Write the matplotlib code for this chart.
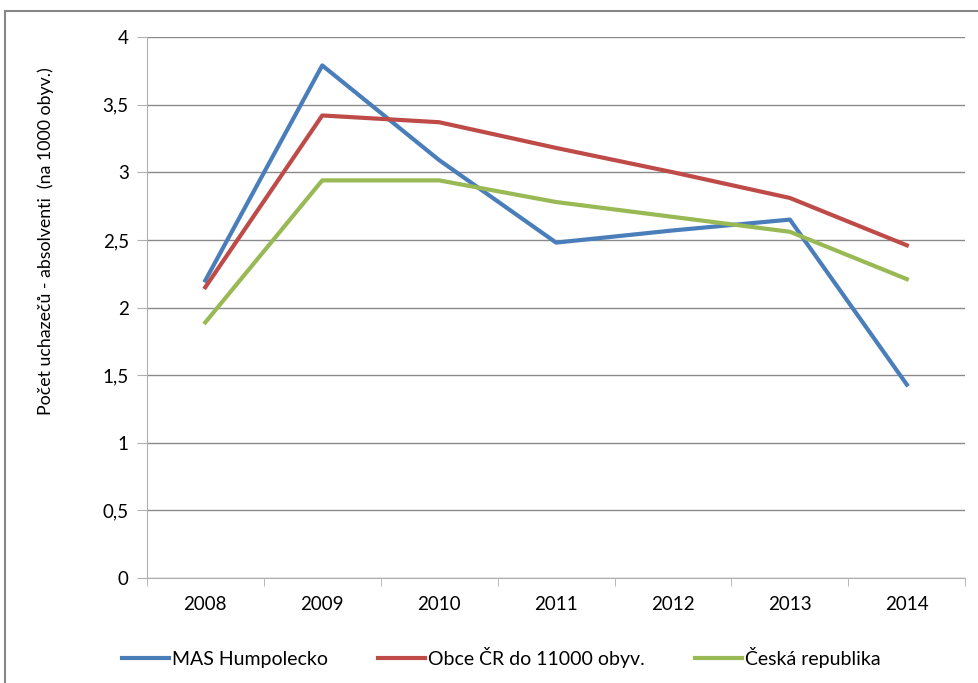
import matplotlib
matplotlib.use('Agg')
import matplotlib.pyplot as plt
from matplotlib.patches import Rectangle

years = ['2008', '2009', '2010', '2011', '2012', '2013', '2014']
mas_humpolecko = [2.20, 3.79, 3.09, 2.48, 2.57, 2.65, 1.43]
obce_cr = [2.15, 3.42, 3.37, 3.18, 3.00, 2.81, 2.46]
ceska_republika = [1.89, 2.94, 2.94, 2.78, 2.67, 2.56, 2.21]

plt.rcParams['font.family'] = ['Lato', 'DejaVu Sans']

fig = plt.figure(figsize=(9.79, 6.83), dpi=100)
ax = fig.add_axes([0.150, 0.1537, 0.836, 0.7921])

# outer chart frame
fig.patches.append(Rectangle((5/979, -0.1), 1.2, 1 - 11/683 + 0.1,
                             transform=fig.transFigure, fill=False,
                             edgecolor='#868686', linewidth=1.5))

x = range(len(years))
ax.plot(x, mas_humpolecko, color='#4a7ebb', lw=3, label='MAS Humpolecko')
ax.plot(x, obce_cr, color='#be4b48', lw=3, label='Obce ČR do 11000 obyv.')
ax.plot(x, ceska_republika, color='#98b954', lw=3, label='Česká republika')

ax.set_xlim(-0.5, len(years) - 0.5)
ax.set_ylim(0, 4)
ax.set_yticks([0, 0.5, 1, 1.5, 2, 2.5, 3, 3.5, 4])
ax.set_yticklabels(['0', '0,5', '1', '1,5', '2', '2,5', '3', '3,5', '4'], fontsize=13.5)
ax.set_xticks(list(x))
ax.set_xticklabels(years, fontsize=13.5)
ax.set_xticks([i - 0.5 for i in range(len(years) + 1)], minor=True)
ax.tick_params(axis='x', which='major', length=0, pad=13)
ax.tick_params(axis='x', which='minor', length=6, color='#b0b0b0', direction='out')
ax.tick_params(axis='y', length=7, color='#b0b0b0', direction='out', pad=6)

ax.grid(True, axis='y', color='#8a8a8a', lw=1)
ax.set_axisbelow(True)
for s in ['top', 'right']:
    ax.spines[s].set_visible(False)
ax.spines['left'].set_color('#b0b0b0')
ax.spines['bottom'].set_color('#b0b0b0')

ax.set_ylabel('Počet uchazečů - absolventi  (na 1000 obyv.)', fontsize=12.8)
ax.yaxis.set_label_coords(-0.113, 0.622)

fig.legend(loc='center', bbox_to_anchor=(0.512, 0.038), ncol=3, frameon=False,
           fontsize=14, handlelength=2.4, handletextpad=0.15, columnspacing=2.6)

fig.savefig('out.png', dpi=100)
